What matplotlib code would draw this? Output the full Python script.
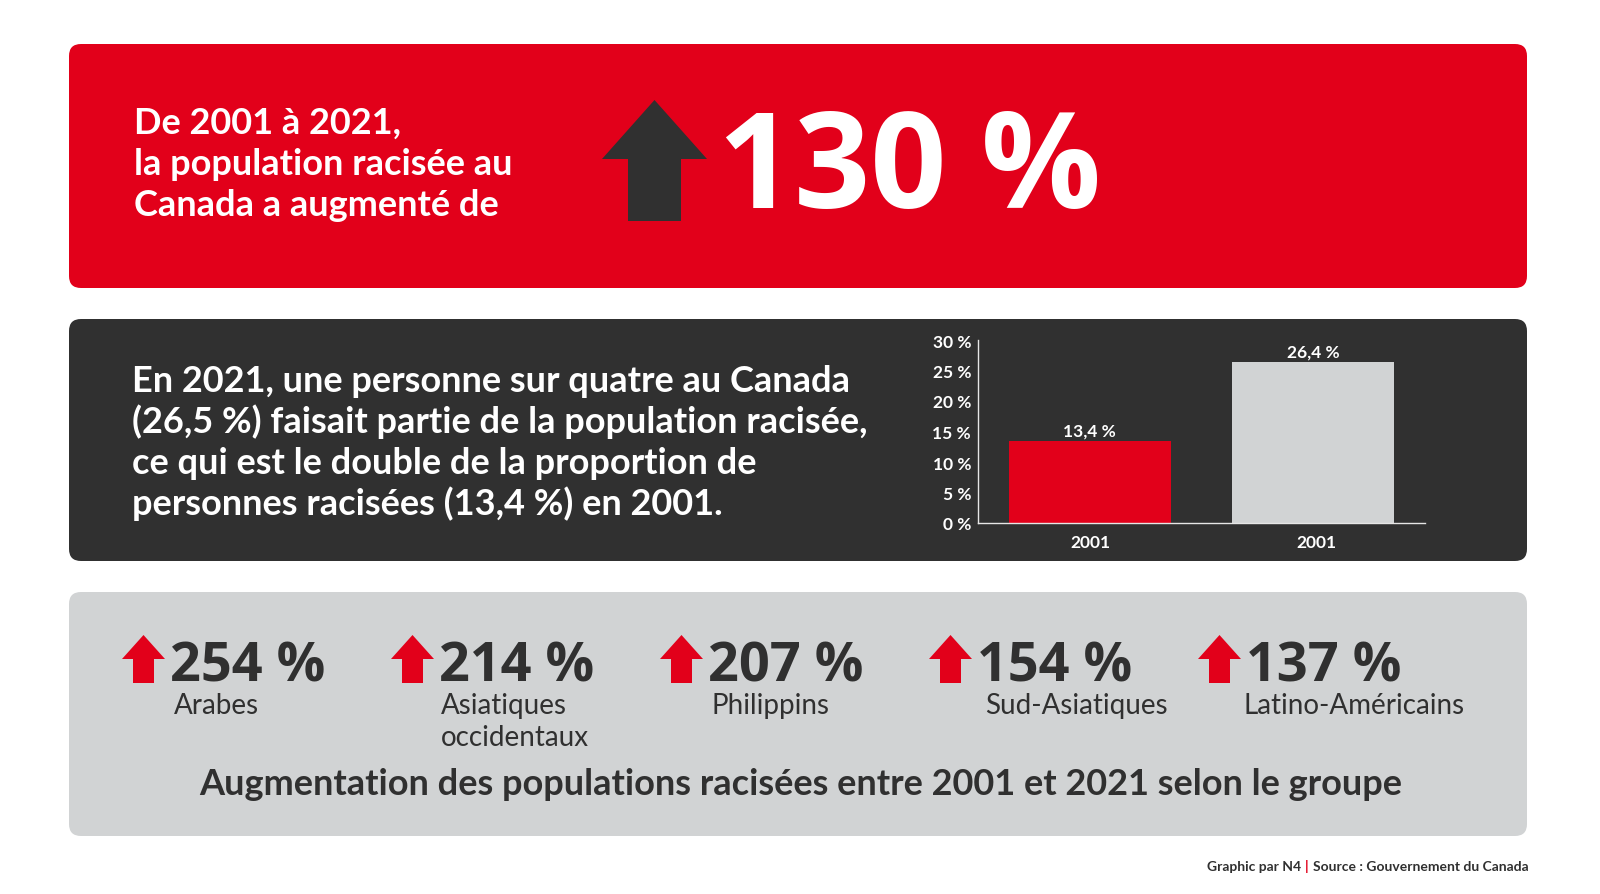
import matplotlib
matplotlib.use('Agg')
import matplotlib.pyplot as plt
from matplotlib.patches import FancyBboxPatch, Polygon

RED = '#E2001A'
DARK = '#303030'
GREY = '#D1D3D4'
FONT = 'Lato'
NUM_FONT = 'Open Sans'

plt.rcParams['font.family'] = [FONT, 'DejaVu Sans']

# chart data
years = ['2001', '2001']
shares = [13.4, 26.4]
share_ticks = [0, 5, 10, 15, 20, 25, 30]

group_values = [254, 214, 207, 154, 137]
group_names = ['Arabes', 'Asiatiques\noccidentaux', 'Philippins', 'Sud-Asiatiques', 'Latino-Américains']
group_label_x = [174, 441, 712, 985, 1243]

headline = 'De 2001 à 2021,\nla population racisée au\nCanada a augmenté de'
body = ('En 2021, une personne sur quatre au Canada\n'
        '(26,5 %) faisait partie de la population racisée,\n'
        'ce qui est le double de la proportion de\n'
        'personnes racisées (13,4 %) en 2001.')


def pct(v):
    return f'{v:g} %'.replace('.', ',')


def panel(ax, y0, y1, color):
    ax.add_patch(FancyBboxPatch((69 + 12, y0 + 12), 1458 - 24, y1 - y0 - 24,
                                boxstyle='round,pad=12,rounding_size=12',
                                fc=color, ec='none'))


def arrow(ax, left, top, neck, bottom, width, shaft, color):
    mid = left + width / 2
    pts = [(mid, top), (left + width, neck), (mid + shaft / 2, neck), (mid + shaft / 2, bottom),
           (mid - shaft / 2, bottom), (mid - shaft / 2, neck), (left, neck)]
    ax.add_patch(Polygon(pts, closed=True, fc=color, ec='none'))


def lines(ax, x, y, text, step, **kw):
    for i, line in enumerate(text.split('\n')):
        ax.text(x, y + i * step, line, va='baseline', **kw)


fig = plt.figure(figsize=(16, 8.95), dpi=100, facecolor='white')

# overlay in pixel coordinates for the panels and text
bg = fig.add_axes([0, 0, 1, 1])
bg.set_xlim(0, 1600)
bg.set_ylim(895, 0)
bg.axis('off')

panel(bg, 45, 289, RED)
panel(bg, 320, 562, DARK)
panel(bg, 593, 837, GREY)

lines(bg, 134.5, 133.5, headline, 41.2, color='white', fontsize=26, fontweight='bold')
arrow(bg, 602, 101, 160, 222, 105, 53, DARK)
bg.text(718, 208, '130 %', color='white', fontsize=96, fontweight='bold', family=NUM_FONT, va='baseline')

lines(bg, 132.5, 391.5, body, 41.2, color='white', fontsize=26, fontweight='bold')

for i, (v, name, lx) in enumerate(zip(group_values, group_names, group_label_x)):
    left = 122 + i * 269
    arrow(bg, left, 636, 660, 684, 43, 21, RED)
    bg.text(left + 48, 681, pct(v), color=DARK, fontsize=39, fontweight='bold', family=NUM_FONT, va='baseline')
    lines(bg, lx, 714, name, 32, color=DARK, fontsize=20)

bg.text(800.5, 795, 'Augmentation des populations racisées entre 2001 et 2021 selon le groupe',
        color=DARK, fontsize=26, fontweight='bold', ha='center', va='baseline')

bg.text(1207, 871, 'Graphic par N4', color=DARK, fontsize=10, fontweight='bold', va='baseline')
bg.text(1307, 871, '|', color=RED, fontsize=10, fontweight='bold', ha='center', va='baseline')
bg.text(1529, 871, 'Source : Gouvernement du Canada', color=DARK, fontsize=10,
        fontweight='bold', ha='right', va='baseline')

# bar chart inside the dark panel
ax = fig.add_axes([978 / 1600, 1 - 524 / 895, (1425 - 978) / 1600, (524 - 341) / 895])
ax.patch.set_alpha(0)
bars = ax.bar([0, 1], shares, width=0.725, color=[RED, GREY])
ax.bar_label(bars, labels=[pct(v) for v in shares], color='white', fontsize=12.5, padding=2, fontweight='bold')
ax.set_xlim(-0.5, 1.5)
ax.set_ylim(0, 30)
ax.set_yticks(share_ticks, [pct(v) for v in share_ticks])
ax.set_xticks([0.005, 1.015], years)
ax.tick_params(length=0, colors='white', labelsize=12.5, pad=5)
ax.tick_params(axis='x', pad=8)
for label in ax.get_xticklabels() + ax.get_yticklabels():
    label.set_fontweight('bold')
for side in ['top', 'right']:
    ax.spines[side].set_visible(False)
for side in ['left', 'bottom']:
    ax.spines[side].set_color('#E6E6E6')
    ax.spines[side].set_linewidth(1)

fig.savefig('out.png', dpi=100)
